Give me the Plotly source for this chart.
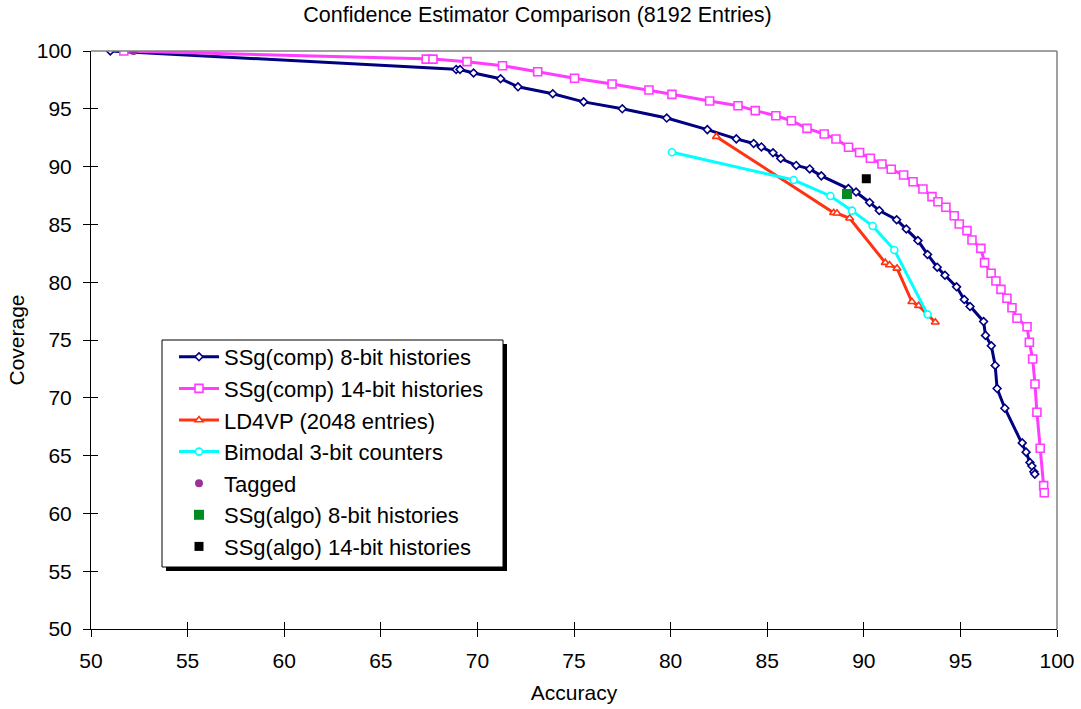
import plotly.graph_objects as go

# ---------------- data ----------------
ssg8_acc = [51.0, 68.9, 69.1, 69.8, 71.2, 72.1, 73.9, 75.5, 77.5, 79.8, 81.9, 83.4, 84.3, 84.7,
            85.3, 85.7, 86.5, 87.2, 87.8, 89.2, 89.6, 90.3, 90.8, 91.7, 92.2, 92.8, 93.3, 93.8,
            94.2, 94.8, 95.2, 95.5, 96.2, 96.3, 96.6, 96.8, 96.9, 97.3, 98.2, 98.4, 98.6, 98.7,
            98.8, 98.85]
ssg8_cov = [100.0, 98.4, 98.4, 98.1, 97.6, 96.9, 96.3, 95.6, 95.0, 94.2, 93.2, 92.4, 92.0, 91.7,
            91.2, 90.7, 90.1, 89.8, 89.2, 88.1, 87.8, 86.9, 86.2, 85.4, 84.6, 83.6, 82.4, 81.3,
            80.6, 79.6, 78.5, 77.9, 76.6, 75.4, 74.5, 72.8, 70.8, 69.1, 66.1, 65.3, 64.4, 64.1,
            63.6, 63.4]

ssg14_acc = [51.7, 67.35, 67.7, 69.46, 71.3, 73.12, 75.03, 76.97, 78.88, 80.07, 82.02, 83.49,
             84.38, 85.45, 86.25, 87.06, 87.95, 88.56, 89.21, 89.78, 90.34, 90.94, 91.42, 92.06,
             92.55, 93.06, 93.53, 93.84, 94.25, 94.68, 94.94, 95.34, 95.6, 96.06, 96.25, 96.59,
             96.84, 97.1, 97.41, 97.67, 97.93, 98.45, 98.57, 98.74, 98.86, 98.96, 99.13, 99.31,
             99.34]
ssg14_cov = [100.0, 99.3, 99.3, 99.08, 98.73, 98.21, 97.64, 97.15, 96.63, 96.25, 95.67, 95.27,
             94.84, 94.4, 93.97, 93.31, 92.82, 92.39, 91.67, 91.22, 90.72, 90.22, 89.77, 89.27,
             88.69, 88.06, 87.4, 86.96, 86.48, 85.75, 85.03, 84.46, 83.65, 82.93, 81.69, 80.77,
             80.1, 79.38, 78.61, 77.79, 76.88, 76.15, 74.8, 73.36, 71.2, 68.75, 65.63, 62.4,
             61.79]

ld4vp_acc = [82.37, 88.44, 88.61, 89.27, 91.11, 91.33, 91.72, 92.49, 92.84, 93.7]
ld4vp_cov = [92.59, 86.01, 85.96, 85.53, 81.69, 81.49, 81.2, 78.31, 77.97, 76.53]

bimodal_acc = [80.07, 86.37, 88.27, 89.39, 90.46, 91.58, 93.3]
bimodal_cov = [91.24, 88.84, 87.46, 86.19, 84.86, 82.79, 77.22]

tagged_acc = [52.2]
tagged_cov = [100.0]

algo8_acc = [89.13]
algo8_cov = [87.63]

algo14_acc = [90.13]
algo14_cov = [88.95]

x_ticks = [50, 55, 60, 65, 70, 75, 80, 85, 90, 95, 100]
y_ticks = [50, 55, 60, 65, 70, 75, 80, 85, 90, 95, 100]

# ---------------- style ----------------
FONT = "Arial, 'Liberation Sans', sans-serif"
NAVY = "#000080"
MAGENTA = "#FF3CFF"
RED = "#FF3311"
CYAN = "#00FFFF"

W, H = 1081, 709
# plot area in page pixels: x 91..1057, y 51..629
ML, MT = 91, 51
MR, MB = W - 1057, H - 629
PW, PH = W - ML - MR, H - MT - MB


def px_x(p):  # page px -> paper
    return (p - ML) / PW


def px_y(p):
    return (H - MB - p) / PH


fig = go.Figure()

fig.add_trace(go.Scatter(
    x=ssg8_acc, y=ssg8_cov, mode="lines+markers", name="SSg(comp) 8-bit histories",
    line=dict(color=NAVY, width=3),
    marker=dict(symbol="diamond", size=6, color="white", line=dict(color=NAVY, width=1.6))))
fig.add_trace(go.Scatter(
    x=ssg14_acc, y=ssg14_cov, mode="lines+markers", name="SSg(comp) 14-bit histories",
    line=dict(color=MAGENTA, width=3),
    marker=dict(symbol="square", size=8, color="white", line=dict(color=MAGENTA, width=1.6))))
fig.add_trace(go.Scatter(
    x=ld4vp_acc, y=ld4vp_cov, mode="lines+markers", name="LD4VP (2048 entries)",
    line=dict(color=RED, width=3),
    marker=dict(symbol="triangle-up", size=7, color="white", line=dict(color=RED, width=1.6))))
fig.add_trace(go.Scatter(
    x=bimodal_acc, y=bimodal_cov, mode="lines+markers", name="Bimodal 3-bit counters",
    line=dict(color=CYAN, width=3),
    marker=dict(symbol="circle", size=7, color="white", line=dict(color=CYAN, width=1.6))))
fig.add_trace(go.Scatter(
    x=tagged_acc, y=tagged_cov, mode="markers", name="Tagged",
    marker=dict(symbol="circle", size=8, color="#993399")))
fig.add_trace(go.Scatter(
    x=algo8_acc, y=algo8_cov, mode="markers", name="SSg(algo) 8-bit histories",
    marker=dict(symbol="square", size=10, color="#008C1E")))
fig.add_trace(go.Scatter(
    x=algo14_acc, y=algo14_cov, mode="markers", name="SSg(algo) 14-bit histories",
    marker=dict(symbol="square", size=9, color="black")))

# overlay axes to give inside half of crossing ticks
fig.add_trace(go.Scatter(x=[], y=[], xaxis="x2", yaxis="y2", showlegend=False, hoverinfo="skip"))

axis_common = dict(showgrid=False, zeroline=False, tickcolor="black", automargin=False,
                   tickfont=dict(family=FONT, size=21, color="black"))

fig.update_layout(
    width=W, height=H,
    margin=dict(l=ML, r=MR, t=MT, b=MB, autoexpand=False),
    paper_bgcolor="white", plot_bgcolor="white",
    font=dict(family=FONT, color="black"),
    title=dict(text="Confidence Estimator Comparison (8192 Entries)",
               font=dict(family=FONT, size=21.5, color="black"),
               x=537.5 / W, xref="container", xanchor="center",
               y=1 - 14 / H, yref="container", yanchor="middle"),
    xaxis=dict(range=[50, 100], tickvals=x_ticks, ticks="outside", ticklen=7, tickwidth=1,
               showline=True, linecolor="black", linewidth=1, mirror=False,
               ticklabelstandoff=6,
               title=dict(text="Accuracy", font=dict(family=FONT, size=21), standoff=14),
               **axis_common),
    yaxis=dict(range=[50, 100], tickvals=y_ticks, ticks="outside", ticklen=7, tickwidth=1,
               showline=True, linecolor="black", linewidth=1, mirror=False,
               ticklabelstandoff=7,
               title=dict(text="Coverage", font=dict(family=FONT, size=21), standoff=6),
               **axis_common),
    xaxis2=dict(range=[50, 100], tickvals=x_ticks, ticks="inside", ticklen=7, tickwidth=1,
                tickcolor="black", overlaying="x", side="bottom", showticklabels=False,
                showgrid=False, zeroline=False, showline=False, automargin=False),
    yaxis2=dict(range=[50, 100], tickvals=y_ticks, ticks="inside", ticklen=7, tickwidth=1,
                tickcolor="black", overlaying="y", side="left", showticklabels=False,
                showgrid=False, zeroline=False, showline=False, automargin=False),
    legend=dict(x=px_x(174), y=px_y(336), xanchor="left", yanchor="top",
                bgcolor="rgba(0,0,0,0)", borderwidth=0,
                font=dict(family=FONT, size=22, color="black"),
                itemwidth=40, tracegroupgap=0),
    showlegend=True,
)

# gray frame on top and right of plot area
fig.add_shape(type="line", xref="paper", yref="paper", x0=0, x1=1, y0=1, y1=1,
              line=dict(color="#808080", width=1.5))
fig.add_shape(type="line", xref="paper", yref="paper", x0=1, x1=1, y0=0, y1=1,
              line=dict(color="#808080", width=1.5))

# legend box with drop shadow
fig.add_shape(type="rect", xref="paper", yref="paper",
              x0=px_x(166), x1=px_x(507), y0=px_y(571), y1=px_y(344),
              line=dict(width=0), fillcolor="black", layer="above")
fig.add_shape(type="rect", xref="paper", yref="paper",
              x0=px_x(162), x1=px_x(503), y0=px_y(567), y1=px_y(340),
              line=dict(color="black", width=1), fillcolor="white", layer="above")

# page body has a default 8px margin; remove it so the figure fills the window
fig.write_html("out.html", config={"displayModeBar": False},
               post_script="document.body.style.margin='0px';")
